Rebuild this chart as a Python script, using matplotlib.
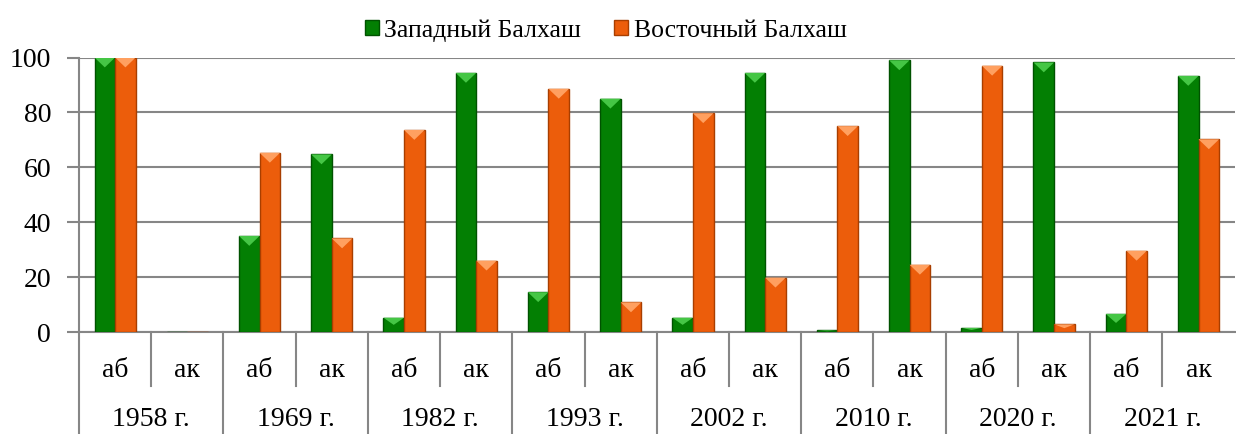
import numpy as np
import matplotlib.pyplot as plt
from matplotlib.patches import Polygon, Patch

# data (percent)
years = ['1958 г.', '1969 г.', '1982 г.', '1993 г.', '2002 г.', '2010 г.', '2020 г.', '2021 г.']
subcats = ['аб', 'ак']
west = [100, 0, 35, 64.7, 5.2, 94.4, 14.5, 85, 5.2, 94.4, 0.6, 99, 1.5, 98.2, 6.6, 93.3]
east = [100, 0, 65.3, 34.1, 73.6, 26, 88.6, 10.8, 79.7, 19.8, 75, 24.5, 97, 2.8, 29.6, 70.2]

plt.rcParams['font.family'] = ['Liberation Serif', 'DejaVu Serif']

grid_col = '#868686'
green, green_hi, green_edge = '#037F03', '#45C645', '#005200'
orange, orange_hi, orange_edge = '#EC5D0B', '#FFA060', '#A83E00'

fig = plt.figure(figsize=(12.36, 4.34), dpi=100)
ax = fig.add_axes([0.0639, 0.235, 0.935, 0.6325])

x = np.arange(len(west))
w = 0.285

# bevel top: lighter triangle on each bar
def bevel(bars, hi):
    for b in bars:
        h = b.get_height()
        if h <= 0:
            continue
        th = min(3.6, h * 0.5)
        x0 = b.get_x()
        bw = b.get_width()
        tri = Polygon([[x0, h], [x0 + bw, h], [x0 + bw / 2, h - th]],
                      closed=True, facecolor=hi, edgecolor='none', zorder=4)
        ax.add_patch(tri)

b1 = ax.bar(x - w / 2, west, w, color=green, edgecolor=green_edge, linewidth=1, zorder=3)
b2 = ax.bar(x + w / 2, east, w, color=orange, edgecolor=orange_edge, linewidth=1, zorder=3)
bevel(b1, green_hi)
bevel(b2, orange_hi)

ax.set_xlim(-0.5, len(west) - 0.5)
ax.set_ylim(0, 100)
ax.set_yticks(np.arange(0, 101, 20))
ax.yaxis.grid(True, color=grid_col, linewidth=1.5, zorder=0)
ax.set_axisbelow(True)
ax.tick_params(axis='y', length=9, width=1.5, color=grid_col, labelsize=20, pad=11)
ax.set_xticks([])
for s in ['top', 'right']:
    ax.spines[s].set_visible(False)
for s in ['left', 'bottom']:
    ax.spines[s].set_color(grid_col)
    ax.spines[s].set_linewidth(1.5)

# two-level category axis
trans = ax.get_xaxis_transform()
for i in range(len(west)):
    ax.text(x[i], -0.14, subcats[i % 2], transform=trans, ha='center', va='center', fontsize=20)
    if i % 2 == 0:
        ax.plot([x[i] + 0.5, x[i] + 0.5], [0, -0.195], transform=trans, color=grid_col,
                linewidth=1.5, clip_on=False)
        ax.plot([x[i] - 0.5, x[i] - 0.5], [0, -0.38], transform=trans, color=grid_col,
                linewidth=1.5, clip_on=False)
for j, yr in enumerate(years):
    ax.text(2 * j + 0.5, -0.318, yr, transform=trans, ha='center', va='center', fontsize=20)

handles = [Patch(facecolor=green, edgecolor=green_edge, label='Западный Балхаш'),
           Patch(facecolor=orange, edgecolor=orange_edge, label='Восточный Балхаш')]
fig.legend(handles=handles, loc='center', bbox_to_anchor=(0.49, 0.93), ncol=2, frameon=False,
           fontsize=18.5, handlelength=0.55, handleheight=0.55, handletextpad=0.2, columnspacing=1.3)

fig.savefig('out.png', dpi=100)
